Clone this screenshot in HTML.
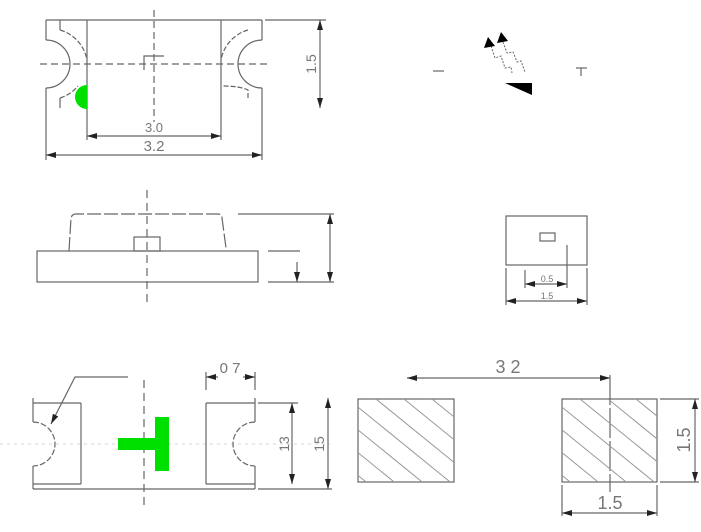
<!DOCTYPE html>
<html><head><meta charset="utf-8"><style>
html,body{margin:0;padding:0;background:#fff;}
svg{display:block;}
text{font-family:"Liberation Sans",sans-serif;fill:#777;}
</style></head><body>
<svg width="701" height="532" viewBox="0 0 701 532" xmlns="http://www.w3.org/2000/svg">
<defs>
<marker id="a" markerWidth="10" markerHeight="6" refX="10" refY="3" orient="auto-start-reverse" markerUnits="userSpaceOnUse"><path d="M0,0 L10,3 L0,6z" fill="#222"/></marker>
<clipPath id="c1"><rect x="358" y="399" width="96" height="83"/></clipPath>
<clipPath id="c2"><rect x="562" y="399" width="95" height="83"/></clipPath>
</defs>
<g stroke="#666" stroke-width="1.2" fill="none">
<!-- TOP VIEW -->
<line x1="46" y1="20" x2="262" y2="20"/>
<line x1="87" y1="20" x2="87" y2="108"/>
<line x1="221" y1="20" x2="221" y2="108"/>
<line x1="46" y1="20" x2="46" y2="40"/><line x1="46" y1="88" x2="46" y2="108"/>
<line x1="262" y1="20" x2="262" y2="40"/><line x1="262" y1="88" x2="262" y2="108"/>
<line x1="60" y1="20" x2="60" y2="30"/><line x1="60" y1="98" x2="60" y2="108"/>
<path d="M46,40 A24,24 0 0 1 46,88"/>
<path d="M262,40 A24,24 0 0 0 262,88"/>
<path d="M60,30 A38,38 0 0 1 87,60" stroke-dasharray="5,2"/>
<path d="M60,98 A38,38 0 0 0 78,86" stroke-dasharray="5,2"/>
<path d="M248,30 A38,38 0 0 0 221,60" stroke-dasharray="5,2"/>
<path d="M248,98 L248,90 Q240,86 222,86" stroke-dasharray="5,2"/>
<line x1="154" y1="10" x2="154" y2="122" stroke-dasharray="7,4"/>
<line x1="40" y1="64" x2="268" y2="64" stroke-dasharray="7,4"/>
<path d="M144,70 L144,56 L164,56"/>
<line x1="87" y1="108" x2="87" y2="140"/><line x1="221" y1="108" x2="221" y2="140"/>
<line x1="46" y1="108" x2="46" y2="160"/><line x1="262" y1="108" x2="262" y2="160"/>
<line x1="87" y1="136" x2="221" y2="136" marker-start="url(#a)" marker-end="url(#a)"/>
<line x1="46" y1="155" x2="262" y2="155" marker-start="url(#a)" marker-end="url(#a)"/>
<line x1="265" y1="20" x2="326" y2="20"/>
<line x1="320" y1="20" x2="320" y2="108" marker-start="url(#a)" marker-end="url(#a)"/>
<!-- SIDE VIEW -->
<rect x="37" y="251" width="221" height="31"/>
<path d="M69,251 L71,218 Q72,214 76,214 L218,214 Q222,214 222,218 L226,248" stroke-dasharray="14,3"/>
<rect x="134" y="237" width="26" height="14"/>
<line x1="147" y1="190" x2="147" y2="302" stroke-dasharray="8,5"/>
<line x1="238" y1="214" x2="334" y2="214"/>
<line x1="268" y1="251" x2="300" y2="251"/>
<line x1="268" y1="282" x2="334" y2="282"/>
<line x1="330" y1="214" x2="330" y2="282" marker-start="url(#a)" marker-end="url(#a)"/>
<line x1="297" y1="262" x2="297" y2="282" marker-end="url(#a)"/>
<!-- SMALL VIEW -->
<rect x="506" y="216" width="81" height="49"/>
<rect x="540" y="233" width="15" height="8"/>
<line x1="567" y1="245" x2="567" y2="288"/>
<line x1="525" y1="270" x2="525" y2="288"/>
<line x1="506" y1="268" x2="506" y2="305"/><line x1="587" y1="268" x2="587" y2="305"/>
<line x1="525" y1="284" x2="567" y2="284" marker-start="url(#a)" marker-end="url(#a)"/>
<line x1="506" y1="301" x2="587" y2="301" marker-start="url(#a)" marker-end="url(#a)"/>
<!-- SYMBOL -->
<line x1="433" y1="71" x2="444" y2="71"/>
<line x1="576" y1="68" x2="587" y2="68"/><line x1="581" y1="68" x2="581" y2="76"/>
<path d="M491,46 L495,58 L501,56 L505,68 L511,67 L512,73" stroke-dasharray="2,1.5" stroke-width="1"/>
<path d="M503,42 L507,53 L513,52 L517,62 L521,61 L525,72" stroke-dasharray="2,1.5" stroke-width="1"/>
<!-- BOTTOM VIEW -->
<line x1="0" y1="444" x2="330" y2="444" stroke="#ddd" stroke-dasharray="3,4"/>
<line x1="33" y1="403" x2="81" y2="403"/>
<line x1="33" y1="398" x2="33" y2="422"/><line x1="33" y1="466" x2="33" y2="489"/>
<path d="M33,422 A22,22 0 0 1 33,466" stroke-dasharray="6,2"/>
<line x1="81" y1="403" x2="81" y2="484"/>
<line x1="33" y1="484" x2="81" y2="484"/>
<line x1="33" y1="489" x2="255" y2="489"/>
<path d="M128,377 L75,377 L51,424" marker-end="url(#a)"/>
<line x1="144" y1="380" x2="144" y2="505" stroke-dasharray="8,5"/>
<line x1="206" y1="403" x2="206" y2="484"/>
<line x1="206" y1="403" x2="255" y2="403"/><line x1="206" y1="484" x2="255" y2="484"/>
<line x1="255" y1="398" x2="255" y2="422"/><line x1="255" y1="466" x2="255" y2="489"/>
<path d="M255,422 A22,22 0 0 0 255,466" stroke-dasharray="6,2"/>
<line x1="206" y1="372" x2="206" y2="390"/><line x1="255" y1="372" x2="255" y2="390"/>
<line x1="206" y1="377" x2="218" y2="377" marker-start="url(#a)"/>
<line x1="243" y1="377" x2="255" y2="377" marker-end="url(#a)"/>
<line x1="258" y1="403" x2="298" y2="403"/>
<line x1="258" y1="489" x2="332" y2="489"/>
<line x1="292" y1="403" x2="292" y2="484" marker-start="url(#a)" marker-end="url(#a)"/>
<line x1="328" y1="398" x2="328" y2="489" marker-start="url(#a)" marker-end="url(#a)"/>
<!-- PADS -->
<rect x="358" y="399" width="96" height="83"/>
<rect x="562" y="399" width="95" height="83"/>
<line x1="407" y1="378" x2="610" y2="378" marker-start="url(#a)" marker-end="url(#a)"/>
<line x1="610" y1="375" x2="610" y2="492" stroke-dasharray="30,3"/>
<line x1="562" y1="485" x2="562" y2="516"/><line x1="657" y1="485" x2="657" y2="516"/>
<line x1="562" y1="513" x2="657" y2="513" marker-start="url(#a)" marker-end="url(#a)"/>
<line x1="660" y1="399" x2="699" y2="399"/><line x1="660" y1="482" x2="699" y2="482"/>
<line x1="695" y1="399" x2="695" y2="482" marker-start="url(#a)" marker-end="url(#a)"/>
</g>
<g stroke="#999" stroke-width="1" clip-path="url(#c1)">
<line x1="300" y1="360" x2="460" y2="490"/><line x1="328" y1="360" x2="488" y2="490"/>
<line x1="356" y1="360" x2="516" y2="490"/><line x1="384" y1="360" x2="544" y2="490"/>
<line x1="412" y1="360" x2="572" y2="490"/><line x1="272" y1="360" x2="432" y2="490"/>
<line x1="244" y1="360" x2="404" y2="490"/><line x1="216" y1="360" x2="376" y2="490"/>
</g>
<g stroke="#999" stroke-width="1" clip-path="url(#c2)">
<line x1="504" y1="360" x2="664" y2="490"/><line x1="532" y1="360" x2="692" y2="490"/>
<line x1="560" y1="360" x2="720" y2="490"/><line x1="588" y1="360" x2="748" y2="490"/>
<line x1="616" y1="360" x2="776" y2="490"/><line x1="476" y1="360" x2="636" y2="490"/>
<line x1="448" y1="360" x2="608" y2="490"/><line x1="420" y1="360" x2="580" y2="490"/>
</g>
<!-- fills -->
<path d="M87,85 A12,12 0 0 0 87,109 Z" fill="#00e000"/>
<rect x="118" y="438" width="40" height="12" fill="#00e000"/>
<rect x="155" y="417" width="14" height="54" fill="#00e000"/>
<path d="M505,83 L532,83 L532,95 Z" fill="#000"/>
<path d="M484,48 L488,37 L495,46 Z" fill="#000"/>
<path d="M497,43 L501,32 L508,41 Z" fill="#000"/>
<!-- text -->
<text x="154" y="132" font-size="13" text-anchor="middle" fill="#bbb">3.0</text>
<text x="154" y="151" font-size="15" text-anchor="middle">3.2</text>
<text transform="translate(316,64) rotate(-90)" font-size="14" text-anchor="middle">1.5</text>
<text x="547" y="282" font-size="9" text-anchor="middle">0.5</text>
<text x="547" y="299" font-size="9" text-anchor="middle" fill="#aaa">1.5</text>
<text x="230" y="373" font-size="15" text-anchor="middle">0 7</text>
<text transform="translate(289,444) rotate(-90)" font-size="14" text-anchor="middle">13</text>
<text transform="translate(324,444) rotate(-90)" font-size="14" text-anchor="middle">15</text>
<text x="508" y="373" font-size="18" text-anchor="middle">3 2</text>
<text x="610" y="509" font-size="18" text-anchor="middle" fill="#999">1.5</text>
<text transform="translate(690,440) rotate(-90)" font-size="18" text-anchor="middle" fill="#999">1.5</text>
</svg>
</body></html>
